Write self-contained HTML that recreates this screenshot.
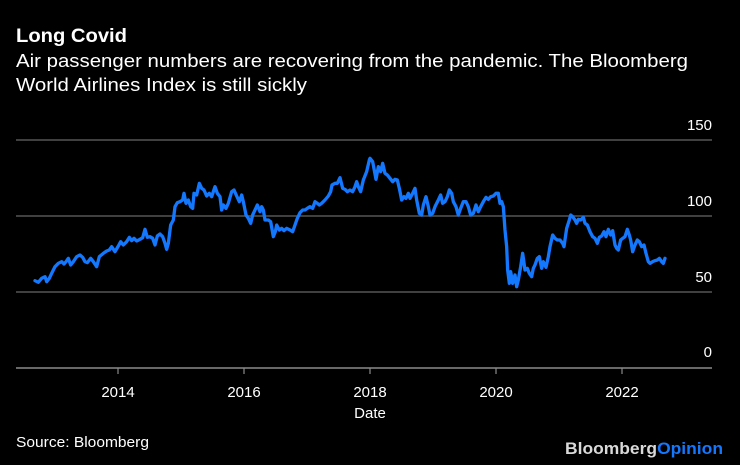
<!DOCTYPE html>
<html>
<head>
<meta charset="utf-8">
<style>
  html, body { margin:0; padding:0; background:#000; }
  svg { display:block; }
  text { font-family: "Liberation Sans", "DejaVu Sans", sans-serif; }
</style>
</head>
<body>
<svg width="740" height="465" viewBox="0 0 740 465" xmlns="http://www.w3.org/2000/svg">
  <rect x="0" y="0" width="740" height="465" fill="#000"/>

  <!-- Title & subtitle -->
  <text x="16" y="42" fill="#fff" font-size="19" font-weight="bold" textLength="111" lengthAdjust="spacingAndGlyphs">Long Covid</text>
  <text x="16" y="67" fill="#fff" font-size="18.5" textLength="672" lengthAdjust="spacingAndGlyphs">Air passenger numbers are recovering from the pandemic. The Bloomberg</text>
  <text x="16" y="91" fill="#fff" font-size="18.5" textLength="291" lengthAdjust="spacingAndGlyphs">World Airlines Index is still sickly</text>

  <!-- Gridlines -->
  <line x1="16" y1="140" x2="712" y2="140" stroke="#555" stroke-width="1.4"/>
  <line x1="16" y1="216" x2="712" y2="216" stroke="#555" stroke-width="1.4"/>
  <line x1="16" y1="292" x2="712" y2="292" stroke="#555" stroke-width="1.4"/>
  <line x1="16" y1="368" x2="712" y2="368" stroke="#8a8a8a" stroke-width="1.4"/>

  <!-- Y labels -->
  <g fill="#fff" font-size="15" text-anchor="end">
    <text x="712" y="130">150</text>
    <text x="712" y="206">100</text>
    <text x="712" y="282">50</text>
    <text x="712" y="357">0</text>
  </g>

  <!-- X ticks -->
  <g stroke="#8a8a8a" stroke-width="1.2">
    <line x1="118" y1="368" x2="118" y2="374"/>
    <line x1="244" y1="368" x2="244" y2="374"/>
    <line x1="370" y1="368" x2="370" y2="374"/>
    <line x1="496" y1="368" x2="496" y2="374"/>
    <line x1="622" y1="368" x2="622" y2="374"/>
  </g>
  <g fill="#fff" font-size="15" text-anchor="middle">
    <text x="118" y="397">2014</text>
    <text x="244" y="397">2016</text>
    <text x="370" y="397">2018</text>
    <text x="496" y="397">2020</text>
    <text x="622" y="397">2022</text>
    <text x="370" y="418">Date</text>
  </g>

  <!-- Data line -->
  <g transform="translate(0,140) scale(0.33333)">
    <polyline fill="none" stroke="#1478ff" stroke-width="3.3" vector-effect="non-scaling-stroke" stroke-linejoin="round" stroke-linecap="round"
      points="105,422 115,427 125,415 135,410 140,425 148,415 155,400 165,380 175,370 185,365 192,372 198,365 205,355 212,375 220,365 230,350 240,345 248,352 255,365 262,368 272,355 280,365 290,380 298,350 310,340 320,333 328,330 335,320 345,335 355,318 362,305 370,315 380,305 388,292 395,302 402,295 410,303 420,298 428,293 435,268 442,292 450,290 458,295 465,315 472,288 480,282 488,290 495,310 500,328 505,310 512,255 520,240 525,200 532,188 540,185 548,180 552,160 558,190 565,180 572,200 578,205 582,160 590,165 598,130 605,145 612,150 620,168 628,160 635,170 645,140 652,160 660,170 665,210 670,195 678,205 685,190 695,155 702,150 710,168 718,185 725,165 730,185 738,225 745,235 752,250 758,225 765,210 772,195 780,215 785,200 790,210 795,240 805,240 812,245 820,290 826,275 830,255 838,270 845,265 852,272 860,265 870,270 878,275 885,255 892,235 900,218 908,210 915,210 922,205 930,200 938,205 945,185 952,190 958,195 965,190 975,180 985,168 992,155 996,135 1005,130 1012,130 1020,113 1028,145 1035,148 1042,155 1050,150 1058,155 1065,140 1070,125 1075,140 1082,155 1090,120 1100,95 1108,60 1110,55 1118,65 1128,118 1135,80 1142,95 1148,70 1155,100 1162,105 1170,115 1178,125 1185,118 1192,120 1198,145 1205,180 1212,170 1218,175 1225,160 1230,175 1238,160 1245,145 1250,180 1258,220 1265,225 1270,195 1278,170 1285,200 1290,225 1298,220 1305,200 1315,180 1322,165 1328,190 1335,185 1342,170 1348,150 1355,160 1360,185 1368,200 1375,225 1382,205 1390,185 1398,185 1405,200 1412,225 1420,220 1428,195 1435,215 1442,200 1450,185 1458,172 1465,178 1472,170 1480,168 1488,160 1495,160 1500,190 1505,185 1510,200 1515,270 1520,320 1523,390 1528,430 1532,395 1538,430 1545,405 1550,440 1555,420 1562,380 1568,340 1575,390 1582,385 1588,400 1595,410 1600,385 1605,375 1612,355 1618,350 1625,385 1630,365 1638,382 1645,350 1650,320 1658,285 1665,295 1672,300 1680,300 1688,310 1692,320 1700,265 1708,240 1712,225 1718,230 1725,240 1730,250 1735,238 1742,240 1750,232 1755,250 1762,255 1770,275 1778,290 1785,295 1792,310 1798,292 1805,288 1812,275 1818,290 1825,268 1832,285 1838,272 1845,315 1850,325 1855,330 1862,300 1868,295 1875,290 1882,268 1888,285 1892,300 1898,335 1905,315 1912,300 1918,305 1925,320 1932,315 1938,340 1945,365 1950,370 1958,365 1965,362 1972,360 1978,355 1985,365 1990,370 1995,355"/>
  </g>

  <!-- Footer -->
  <text x="16" y="447" fill="#fff" font-size="15" textLength="133" lengthAdjust="spacingAndGlyphs">Source: Bloomberg</text>
  <text x="565" y="454" font-size="17" font-weight="bold" textLength="158" lengthAdjust="spacingAndGlyphs"><tspan fill="#d9d9d9">Bloomberg</tspan><tspan fill="#1478ff">Opinion</tspan></text>
</svg>
</body>
</html>
